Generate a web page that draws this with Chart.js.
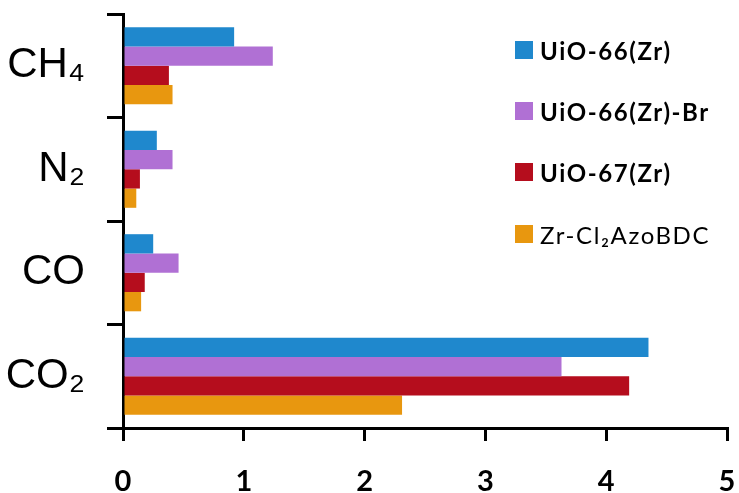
<!DOCTYPE html>
<html>
<head>
<meta charset="utf-8">
<script src="https://cdn.jsdelivr.net/npm/chart.js@4"></script>
<style>
  body { margin: 0; background: #fff; }
  #wrap { position: relative; width: 739px; height: 493px; }
  #legend { position: absolute; left: 515px; top: 41px; font-family: Lato, 'Open Sans', sans-serif; font-size: 24px; letter-spacing: 1.6px; color: #000; }
  .item { position: absolute; left: 0; height: 18px; display: flex; align-items: center; white-space: nowrap; }
  .box { width: 18px; height: 18px; margin-right: 7px; flex: none; }
</style>
</head>
<body>
<div id="wrap">
  <canvas id="chart" width="739" height="493"></canvas>
  <div id="legend"></div>
</div>
<script>
// gases, top to bottom
var gases = ['CH₄', 'N₂', 'CO', 'CO₂']
var seriesNames = ['UiO-66(Zr)', 'UiO-66(Zr)-Br', 'UiO-67(Zr)', 'Zr-Cl₂AzoBDC']
var uio66 = [0.92, 0.28, 0.25, 4.35]
var uio66Br = [1.24, 0.41, 0.46, 3.63]
var uio67 = [0.38, 0.14, 0.18, 4.19]
var zrCl2Azo = [0.41, 0.11, 0.15, 2.31]
var xTicks = [0, 1, 2, 3, 4, 5]
var colors = ['#1f88cd', '#b070d4', '#b50d1d', '#e8970f']

var series = [uio66, uio66Br, uio67, zrCl2Azo]
var datasets = []
for (var i = 0; i < series.length; i++) {
  datasets.push({
    label: seriesNames[i],
    data: series[i],
    backgroundColor: colors[i],
    borderWidth: 0,
    categoryPercentage: 0.745,
    barPercentage: 1.0
  })
}

// legend (html, sits over the plot like the original)
var legend = document.getElementById('legend')
var rowTop = [0, 61, 122, 184]
for (var j = 0; j < seriesNames.length; j++) {
  var item = document.createElement('div')
  item.className = 'item'
  item.style.top = rowTop[j] + 'px'
  item.style.fontWeight = j < 3 ? 'bold' : 'normal'
  var box = document.createElement('span')
  box.className = 'box'
  box.style.background = colors[j]
  var txt = document.createElement('span')
  txt.textContent = seriesNames[j]
  item.appendChild(box)
  item.appendChild(txt)
  legend.appendChild(item)
}

new Chart(document.getElementById('chart'), {
  type: 'bar',
  data: { labels: gases, datasets: datasets },
  options: {
    indexAxis: 'y',
    responsive: false,
    animation: false,
    layout: { padding: { top: 14, right: 12, left: 0, bottom: 0 } },
    plugins: { legend: { display: false }, tooltip: { enabled: false } },
    scales: {
      x: {
        min: xTicks[0],
        max: xTicks[xTicks.length - 1],
        afterBuildTicks: function (s) { s.ticks = xTicks.map(function (v) { return { value: v } }) },
        afterFit: function (s) {
          s.height = 65
          s.paddingLeft = 0
          s.paddingRight = 0
        },
        ticks: { color: '#000', padding: 23, font: { family: 'Lato', size: 29, weight: 'bold' } },
        grid: { drawOnChartArea: false, tickLength: 13, color: '#000', lineWidth: 3 },
        border: { color: '#000', width: 3 }
      },
      y: {
        afterFit: function (s) {
          s.width = 123
          s.paddingTop = 0
          s.paddingBottom = 0
        },
        ticks: { color: '#000', padding: 22, font: { family: 'Liberation Sans', size: 42 } },
        grid: { offset: true, drawOnChartArea: false, tickLength: 16, color: '#000', lineWidth: 3 },
        border: { color: '#000', width: 3 }
      }
    }
  }
})
</script>
</body>
</html>
